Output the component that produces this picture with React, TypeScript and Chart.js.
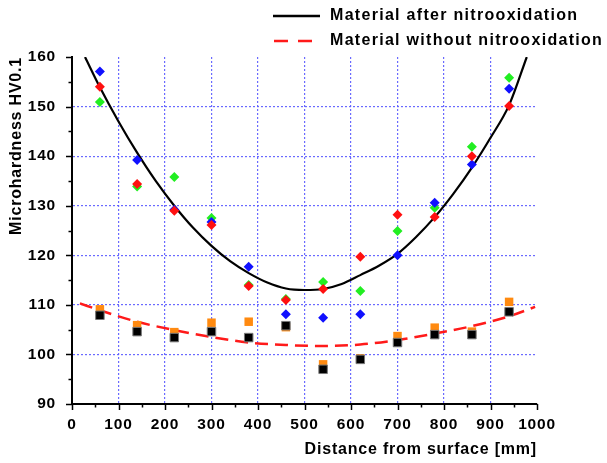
import React, { useEffect, useRef } from "react";
import { Chart, registerables } from "chart.js";

Chart.register(...registerables);

const positions = [60, 140, 220, 300, 380, 460, 540, 620, 700, 780, 860, 940];
const blueAfter = [157.1, 139.2, 129.2, 126.7, 117.7, 108.1, 107.4, 108.1, 120.0, 130.6, 138.3, 153.6];
const redAfter = [154.0, 134.4, 129.0, 126.1, 113.8, 111.0, 113.2, 119.7, 128.2, 127.7, 140.0, 150.1];
const greenAfter = [150.9, 133.9, 135.8, 127.5, 114.0, 111.2, 114.6, 112.8, 124.9, 129.6, 141.9, 155.8];
const orangeWithout = [109.1, 105.9, 104.5, 106.4, 106.6, 105.5, 98.0, 99.2, 103.7, 105.4, 104.6, 110.6];
const blackWithout = [107.9, 104.6, 103.4, 104.6, 103.4, 105.8, 97.0, 99.0, 102.4, 104.0, 104.0, 108.6];

const fitAfterX = [28, 60, 100, 140, 180, 220, 260, 300, 340, 380, 420, 460, 500, 540, 580, 620, 660, 700, 740, 780, 820, 860, 900, 940, 978];
const fitAfterY = [160, 153.9, 147.0, 140.7, 135.0, 130.0, 125.6, 121.9, 118.8, 116.4, 114.5, 113.3, 113.0, 113.2, 114.2, 116.0, 117.9, 120.3, 123.7, 127.7, 132.4, 137.7, 143.7, 150.3, 160];
const fitWithoutX = [17, 60, 140, 220, 300, 380, 460, 540, 620, 700, 780, 860, 940, 996];
const fitWithoutY = [110.3, 108.9, 106.6, 104.9, 103.5, 102.4, 101.9, 101.7, 102.0, 102.9, 104.2, 105.7, 107.7, 109.6];

const legendLabels = ["Material after nitrooxidation", "Material without nitrooxidation"];
const xTitle = "Distance from surface [mm]";
const yTitle = "Microhardness HV0.1";

const FONT = "'Liberation Sans', Arial, sans-serif";

const pts = (xs: number[], ys: number[]) => xs.map((x, i) => ({ x, y: ys[i] }));

const extrasPlugin = {
  id: "extras",
  beforeDraw(chart: any) {
    (chart.ctx as any).letterSpacing = "0.8px";
  },
  afterDraw(chart: any) {
    const ctx = chart.ctx;
    const xs = chart.scales.x;
    const ys = chart.scales.y;
    const area = chart.chartArea;
    ctx.save();
    ctx.strokeStyle = "#000";
    ctx.lineWidth = 1.5;
    ctx.beginPath();
    for (let v = 0; v <= 1000; v += 50) {
      const px = Math.round(xs.getPixelForValue(v)) + 0.5;
      const len = v % 100 === 0 ? 6 : 3.5;
      ctx.moveTo(px, area.bottom);
      ctx.lineTo(px, area.bottom + len);
    }
    for (let v = 90; v <= 160; v += 5) {
      const py = Math.round(ys.getPixelForValue(v)) + 0.5;
      const len = v % 10 === 0 ? 6 : 3.5;
      ctx.moveTo(area.left, py);
      ctx.lineTo(area.left - len, py);
    }
    ctx.stroke();

    // legend
    (ctx as any).letterSpacing = "1.3px";
    ctx.font = `bold 16px ${FONT}`;
    ctx.textBaseline = "middle";
    ctx.textAlign = "left";
    ctx.fillStyle = "#000";
    ctx.lineWidth = 2.5;
    ctx.strokeStyle = "#000";
    ctx.beginPath();
    ctx.moveTo(273, 16);
    ctx.lineTo(320, 16);
    ctx.stroke();
    ctx.fillText(legendLabels[0], 330, 16);
    ctx.strokeStyle = "#ff1a1a";
    ctx.setLineDash([14, 10]);
    ctx.beginPath();
    ctx.moveTo(274, 41);
    ctx.lineTo(320, 41);
    ctx.stroke();
    ctx.setLineDash([]);
    ctx.fillText(legendLabels[1], 330, 41);
    ctx.restore();
    (ctx as any).letterSpacing = "0px";
  },
};

export default function App() {
  const ref = useRef<HTMLCanvasElement>(null);
  useEffect(() => {
    if (!ref.current) return;
    const gridColor = "rgba(90,90,255,0.9)";
    const tickFont = { family: FONT, size: 15.5, weight: "bold" };
    const titleFont = { family: FONT, size: 16, weight: "bold" };
    const chart = new Chart(ref.current, {
      type: "scatter",
      data: {
        datasets: [
          { label: "red", data: pts(positions, redAfter), pointStyle: "rectRot", pointRadius: 5, backgroundColor: "#ff1010", borderColor: "#ff1010", borderWidth: 0 } as any,
          { label: "blue", data: pts(positions, blueAfter), pointStyle: "rectRot", pointRadius: 5, backgroundColor: "#1010ff", borderColor: "#1010ff", borderWidth: 0 } as any,
          { label: "green", data: pts(positions, greenAfter), pointStyle: "rectRot", pointRadius: 5, backgroundColor: "#22ee22", borderColor: "#22ee22", borderWidth: 0 } as any,
          { label: "black", data: pts(positions, blackWithout), pointStyle: "rect", pointRadius: 6, backgroundColor: "#000", borderColor: "#777", borderWidth: 1 } as any,
          { label: "orange", data: pts(positions, orangeWithout), pointStyle: "rect", pointRadius: 6, backgroundColor: "#ff8a10", borderColor: "#ff8a10", borderWidth: 0 } as any,
          { type: "line", label: legendLabels[0], data: pts(fitAfterX, fitAfterY), borderColor: "#000", borderWidth: 2.2, pointRadius: 0, tension: 0.4, cubicInterpolationMode: "monotone", fill: false } as any,
          { type: "line", label: legendLabels[1], data: pts(fitWithoutX, fitWithoutY), borderColor: "#ff1a1a", borderWidth: 2.5, borderDash: [13, 7], pointRadius: 0, tension: 0.4, cubicInterpolationMode: "monotone", fill: false } as any,
        ],
      },
      options: {
        animation: false,
        responsive: false,
        layout: { padding: { left: 0, top: 57, right: 70, bottom: 0 } },
        plugins: { legend: { display: false }, tooltip: { enabled: false } },
        scales: {
          x: {
            type: "linear",
            min: 0,
            max: 1000,
            ticks: { stepSize: 100, color: "#000", font: tickFont, padding: 11, maxRotation: 0, callback: (v: any) => String(v) },
            grid: {
              drawTicks: false,
              lineWidth: 1.2,
              color: (c: any) => (c.tick && c.tick.value > 0 && c.tick.value < 1000 ? gridColor : "rgba(0,0,0,0)"),
            },
            border: { display: true, color: "#000", width: 2, dash: [2, 2] },
            title: { display: true, text: xTitle, align: "end", color: "#000", font: titleFont, padding: { top: 0, bottom: 4 } },
            afterFit: (s: any) => { s.height = 59; },
          },
          y: {
            type: "linear",
            min: 90,
            max: 160,
            ticks: { stepSize: 10, color: "#000", font: tickFont, padding: 16, callback: (v: any) => String(v) },
            grid: {
              drawTicks: false,
              lineWidth: 1.2,
              color: (c: any) => (c.tick && c.tick.value > 90 && c.tick.value < 160 ? gridColor : "rgba(0,0,0,0)"),
            },
            border: { display: true, color: "#000", width: 2, dash: [2, 2] },
            title: { display: true, text: yTitle, align: "end", color: "#000", font: titleFont, padding: { top: 7, bottom: 0 } },
            afterFit: (s: any) => { s.width = 72; },
          },
        },
      } as any,
      plugins: [extrasPlugin],
    });
    return () => chart.destroy();
  }, []);
  return (
    <div style={{ position: "absolute", left: 0, top: 0, width: 607, height: 463, background: "#fff" }}>
      <canvas ref={ref} width={607} height={463} style={{ display: "block" }} />
    </div>
  );
}
